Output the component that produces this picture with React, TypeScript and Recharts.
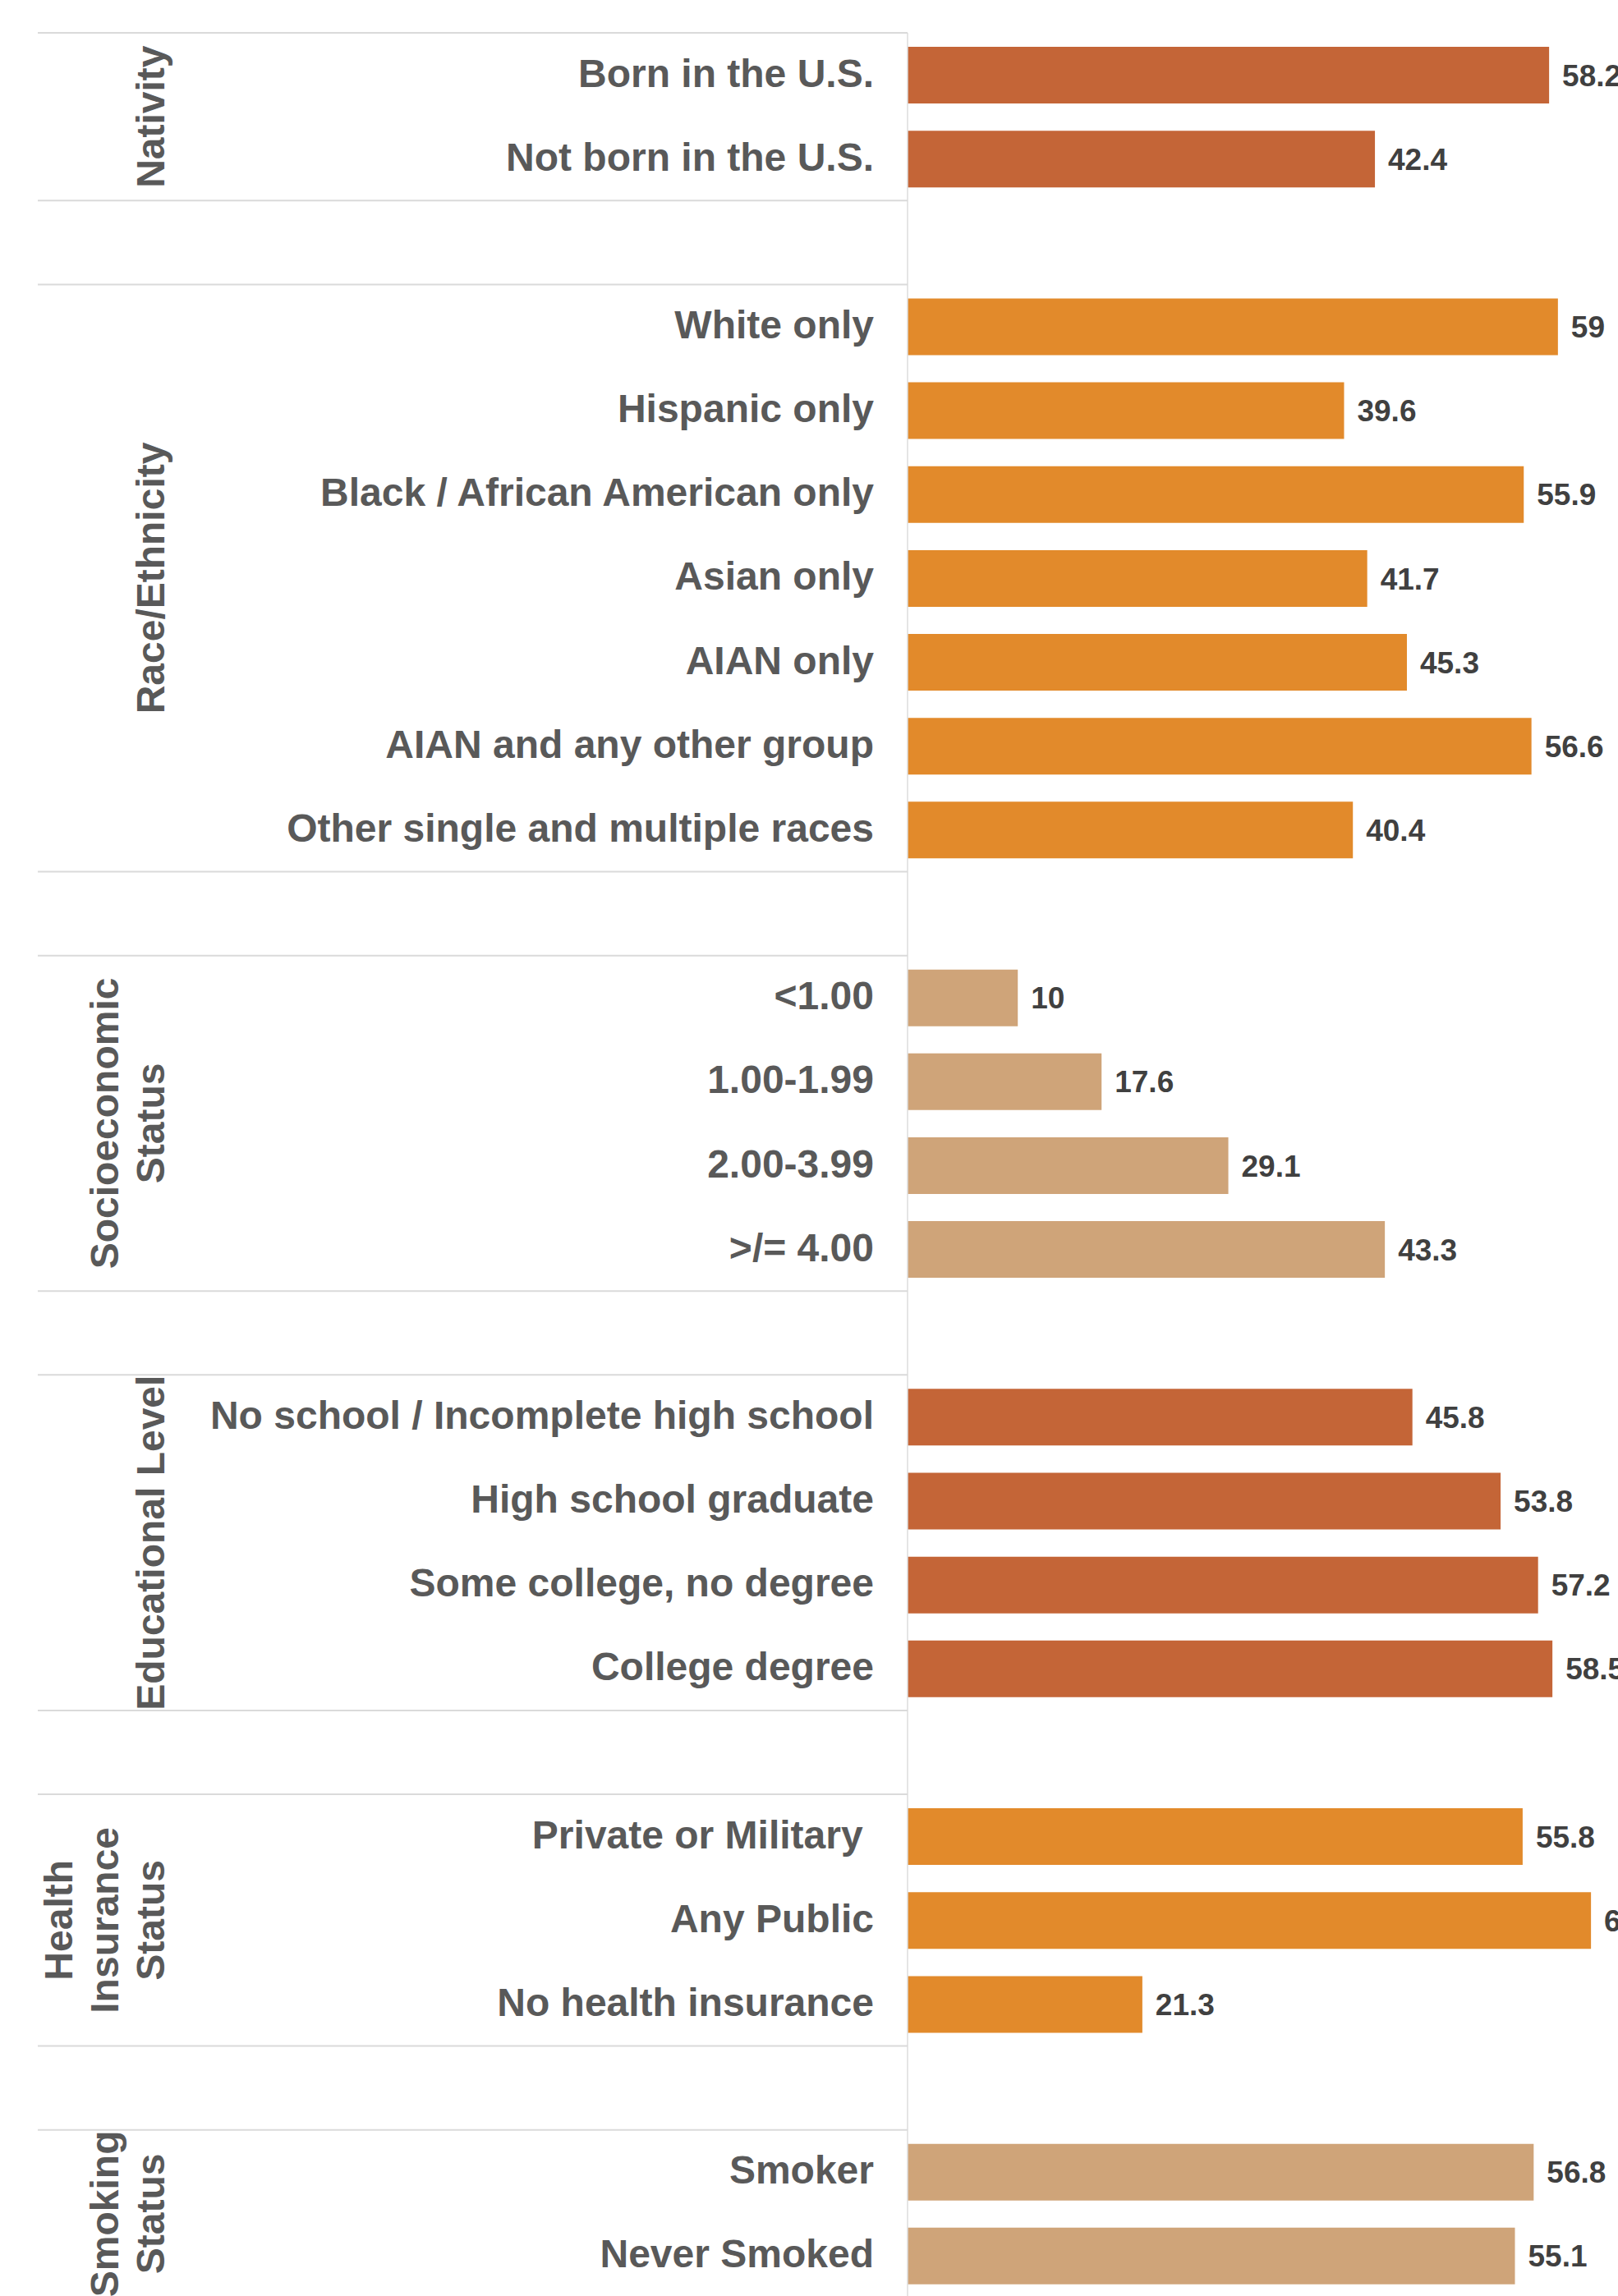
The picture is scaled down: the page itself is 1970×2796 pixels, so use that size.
import React from 'react';
import { BarChart, Bar, XAxis, YAxis, Cell, LabelList } from 'recharts';

// ---- Data ----
const nativityCats = ['Born in the U.S.', 'Not born in the U.S.'];
const nativityVals = [58.2, 42.4];
const raceCats = [
  'White only',
  'Hispanic only',
  'Black / African American only',
  'Asian only',
  'AIAN only',
  'AIAN and any other group',
  'Other single and multiple races',
];
const raceVals = [59, 39.6, 55.9, 41.7, 45.3, 56.6, 40.4];
const sesCats = ['<1.00', '1.00-1.99', '2.00-3.99', '>/= 4.00'];
const sesVals = [10, 17.6, 29.1, 43.3];
const eduCats = [
  'No school / Incomplete high school',
  'High school graduate',
  'Some college, no degree',
  'College degree',
];
const eduVals = [45.8, 53.8, 57.2, 58.5];
const insCats = ['Private or Military\u00a0', 'Any Public', 'No health insurance'];
const insVals = [55.8, 62, 21.3];
const smokeCats = ['Smoker', 'Never Smoked'];
const smokeVals = [56.8, 55.1];

const groupTitles = [
  ['Nativity'],
  ['Race/Ethnicity'],
  ['Socioeconomic', 'Status'],
  ['Educational Level'],
  ['Health', 'Insurance', 'Status'],
  ['Smoking', 'Status'],
];
const groupCats = [nativityCats, raceCats, sesCats, eduCats, insCats, smokeCats];
const groupVals = [nativityVals, raceVals, sesVals, eduVals, insVals, smokeVals];
const groupColors = ['#C46537', '#E28A2B', '#CFA479', '#C46537', '#E28A2B', '#CFA479'];

type Row = {
  key: string;
  label: string;
  value: number | null;
  color: string;
  group: number;
  idx: number;
  n: number;
  spacer: boolean;
};

const rows: Row[] = [];
groupCats.forEach((cats, gi) => {
  cats.forEach((c, i) => {
    rows.push({
      key: `g${gi}-${i}`,
      label: c,
      value: groupVals[gi][i],
      color: groupColors[gi],
      group: gi,
      idx: i,
      n: cats.length,
      spacer: false,
    });
  });
  if (gi < groupCats.length - 1) {
    rows.push({ key: `gap${gi}`, label: '', value: null, color: '#fff', group: gi, idx: -1, n: 0, spacer: true });
  }
});
const rowByKey: Record<string, Row> = {};
rows.forEach((r) => (rowByKey[r.key] = r));

// ---- Layout ----
const W = 1970;
const H = 2798;
const TOP = 40;
const AXIS_X = 1105;
const BAND = (H - TOP) / rows.length;
const FONT = '"Liberation Sans", Arial, sans-serif';

const Tick = (props: any) => {
  const { x, y, payload } = props;
  const row = rowByKey[payload.value];
  if (!row || row.spacer) return <g />;
  const els: any[] = [];
  els.push(
    <text
      key="lbl"
      x={x}
      y={y - 2}
      textAnchor="end"
      dominantBaseline="central"
      fontFamily={FONT}
      fontWeight="bold"
      fontSize={48}
      fill="#595959"
      style={{ whiteSpace: 'pre' }}
    >
      {row.label}
    </text>
  );
  if (row.idx === 0) {
    const top = y - BAND / 2;
    els.push(<line key="top" x1={46} x2={AXIS_X} y1={top} y2={top} stroke="#dadada" strokeWidth={2} />);
    const cy = top + (row.n * BAND) / 2;
    const lines = groupTitles[row.group];
    lines.forEach((t, li) => {
      const lx = 184 - (lines.length - 1 - li) * 56;
      els.push(
        <text
          key={`t${li}`}
          transform={`rotate(-90 ${lx} ${cy})`}
          x={lx}
          y={cy}
          textAnchor="middle"
          dominantBaseline="central"
          fontFamily={FONT}
          fontWeight="bold"
          fontSize={48}
          fill="#595959"
        >
          {t}
        </text>
      );
    });
  }
  if (row.idx === row.n - 1) {
    const bot = y + BAND / 2;
    els.push(<line key="bot" x1={46} x2={AXIS_X} y1={bot} y2={bot} stroke="#dadada" strokeWidth={2} />);
  }
  return <g>{els}</g>;
};

export default function App() {
  return (
    <div style={{ position: 'absolute', left: 0, top: 0, width: W, height: 2796, overflow: 'hidden', background: '#fff' }}>
      <BarChart
        width={W}
        height={H}
        data={rows}
        layout="vertical"
        margin={{ top: TOP, right: 0, bottom: 0, left: 0 }}
      >
        <XAxis type="number" domain={[0, 64.45]} hide allowDataOverflow />
        <YAxis
          type="category"
          dataKey="key"
          width={AXIS_X}
          interval={0}
          tickLine={false}
          tickSize={0}
          tickMargin={41}
          axisLine={{ stroke: '#dcdcdc', strokeWidth: 1.5 }}
          tick={<Tick />}
        />
        <Bar dataKey="value" barSize={69} isAnimationActive={false}>
          {rows.map((r) => (
            <Cell key={r.key} fill={r.color} />
          ))}
          <LabelList
            dataKey="value"
            position="right"
            offset={16}
            formatter={(v: any) => (v == null ? '' : String(v))}
            style={{ fontFamily: FONT, fontWeight: 'bold', fontSize: 37, fill: '#404040' }}
          />
        </Bar>
      </BarChart>
    </div>
  );
}
